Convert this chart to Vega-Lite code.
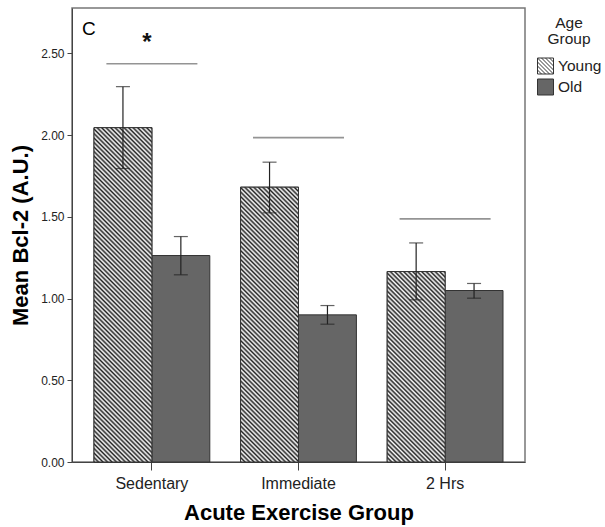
{
  "$schema": "https://vega.github.io/schema/vega-lite/v6.json",
  "width": 453,
  "height": 454,
  "autosize": {"type": "none"},
  "padding": {"left": 72, "top": 8, "right": 80, "bottom": 65},
  "background": "#ffffff",
  "title": {"text": "C", "anchor": "start", "frame": "group", "orient": "top", "offset": 0, "baseline": "alphabetic", "dx": 10, "dy": 46, "fontSize": 19, "fontWeight": "normal", "font": "Liberation Sans", "color": "#000"},
  "params": [
    {"name": "hatch", "value": [
{"offset":0,"color":"#222"},{"offset":0.005,"color":"#fff"},{"offset":0.01,"color":"#222"},{"offset":0.015,"color":"#fff"},{"offset":0.02,"color":"#222"},{"offset":0.025,"color":"#fff"},{"offset":0.03,"color":"#222"},{"offset":0.035,"color":"#fff"},{"offset":0.04,"color":"#222"},{"offset":0.045,"color":"#fff"},
{"offset":0.05,"color":"#222"},{"offset":0.055,"color":"#fff"},{"offset":0.06,"color":"#222"},{"offset":0.065,"color":"#fff"},{"offset":0.07,"color":"#222"},{"offset":0.075,"color":"#fff"},{"offset":0.08,"color":"#222"},{"offset":0.085,"color":"#fff"},{"offset":0.09,"color":"#222"},{"offset":0.095,"color":"#fff"},
{"offset":0.1,"color":"#222"},{"offset":0.105,"color":"#fff"},{"offset":0.11,"color":"#222"},{"offset":0.115,"color":"#fff"},{"offset":0.12,"color":"#222"},{"offset":0.125,"color":"#fff"},{"offset":0.13,"color":"#222"},{"offset":0.135,"color":"#fff"},{"offset":0.14,"color":"#222"},{"offset":0.145,"color":"#fff"},
{"offset":0.15,"color":"#222"},{"offset":0.155,"color":"#fff"},{"offset":0.16,"color":"#222"},{"offset":0.165,"color":"#fff"},{"offset":0.17,"color":"#222"},{"offset":0.175,"color":"#fff"},{"offset":0.18,"color":"#222"},{"offset":0.185,"color":"#fff"},{"offset":0.19,"color":"#222"},{"offset":0.195,"color":"#fff"},
{"offset":0.2,"color":"#222"},{"offset":0.205,"color":"#fff"},{"offset":0.21,"color":"#222"},{"offset":0.215,"color":"#fff"},{"offset":0.22,"color":"#222"},{"offset":0.225,"color":"#fff"},{"offset":0.23,"color":"#222"},{"offset":0.235,"color":"#fff"},{"offset":0.24,"color":"#222"},{"offset":0.245,"color":"#fff"},
{"offset":0.25,"color":"#222"},{"offset":0.255,"color":"#fff"},{"offset":0.26,"color":"#222"},{"offset":0.265,"color":"#fff"},{"offset":0.27,"color":"#222"},{"offset":0.275,"color":"#fff"},{"offset":0.28,"color":"#222"},{"offset":0.285,"color":"#fff"},{"offset":0.29,"color":"#222"},{"offset":0.295,"color":"#fff"},
{"offset":0.3,"color":"#222"},{"offset":0.305,"color":"#fff"},{"offset":0.31,"color":"#222"},{"offset":0.315,"color":"#fff"},{"offset":0.32,"color":"#222"},{"offset":0.325,"color":"#fff"},{"offset":0.33,"color":"#222"},{"offset":0.335,"color":"#fff"},{"offset":0.34,"color":"#222"},{"offset":0.345,"color":"#fff"},
{"offset":0.35,"color":"#222"},{"offset":0.355,"color":"#fff"},{"offset":0.36,"color":"#222"},{"offset":0.365,"color":"#fff"},{"offset":0.37,"color":"#222"},{"offset":0.375,"color":"#fff"},{"offset":0.38,"color":"#222"},{"offset":0.385,"color":"#fff"},{"offset":0.39,"color":"#222"},{"offset":0.395,"color":"#fff"},
{"offset":0.4,"color":"#222"},{"offset":0.405,"color":"#fff"},{"offset":0.41,"color":"#222"},{"offset":0.415,"color":"#fff"},{"offset":0.42,"color":"#222"},{"offset":0.425,"color":"#fff"},{"offset":0.43,"color":"#222"},{"offset":0.435,"color":"#fff"},{"offset":0.44,"color":"#222"},{"offset":0.445,"color":"#fff"},
{"offset":0.45,"color":"#222"},{"offset":0.455,"color":"#fff"},{"offset":0.46,"color":"#222"},{"offset":0.465,"color":"#fff"},{"offset":0.47,"color":"#222"},{"offset":0.475,"color":"#fff"},{"offset":0.48,"color":"#222"},{"offset":0.485,"color":"#fff"},{"offset":0.49,"color":"#222"},{"offset":0.495,"color":"#fff"},
{"offset":0.5,"color":"#222"},{"offset":0.505,"color":"#fff"},{"offset":0.51,"color":"#222"},{"offset":0.515,"color":"#fff"},{"offset":0.52,"color":"#222"},{"offset":0.525,"color":"#fff"},{"offset":0.53,"color":"#222"},{"offset":0.535,"color":"#fff"},{"offset":0.54,"color":"#222"},{"offset":0.545,"color":"#fff"},
{"offset":0.55,"color":"#222"},{"offset":0.555,"color":"#fff"},{"offset":0.56,"color":"#222"},{"offset":0.565,"color":"#fff"},{"offset":0.57,"color":"#222"},{"offset":0.575,"color":"#fff"},{"offset":0.58,"color":"#222"},{"offset":0.585,"color":"#fff"},{"offset":0.59,"color":"#222"},{"offset":0.595,"color":"#fff"},
{"offset":0.6,"color":"#222"},{"offset":0.605,"color":"#fff"},{"offset":0.61,"color":"#222"},{"offset":0.615,"color":"#fff"},{"offset":0.62,"color":"#222"},{"offset":0.625,"color":"#fff"},{"offset":0.63,"color":"#222"},{"offset":0.635,"color":"#fff"},{"offset":0.64,"color":"#222"},{"offset":0.645,"color":"#fff"},
{"offset":0.65,"color":"#222"},{"offset":0.655,"color":"#fff"},{"offset":0.66,"color":"#222"},{"offset":0.665,"color":"#fff"},{"offset":0.67,"color":"#222"},{"offset":0.675,"color":"#fff"},{"offset":0.68,"color":"#222"},{"offset":0.685,"color":"#fff"},{"offset":0.69,"color":"#222"},{"offset":0.695,"color":"#fff"},
{"offset":0.7,"color":"#222"},{"offset":0.705,"color":"#fff"},{"offset":0.71,"color":"#222"},{"offset":0.715,"color":"#fff"},{"offset":0.72,"color":"#222"},{"offset":0.725,"color":"#fff"},{"offset":0.73,"color":"#222"},{"offset":0.735,"color":"#fff"},{"offset":0.74,"color":"#222"},{"offset":0.745,"color":"#fff"},
{"offset":0.75,"color":"#222"},{"offset":0.755,"color":"#fff"},{"offset":0.76,"color":"#222"},{"offset":0.765,"color":"#fff"},{"offset":0.77,"color":"#222"},{"offset":0.775,"color":"#fff"},{"offset":0.78,"color":"#222"},{"offset":0.785,"color":"#fff"},{"offset":0.79,"color":"#222"},{"offset":0.795,"color":"#fff"},
{"offset":0.8,"color":"#222"},{"offset":0.805,"color":"#fff"},{"offset":0.81,"color":"#222"},{"offset":0.815,"color":"#fff"},{"offset":0.82,"color":"#222"},{"offset":0.825,"color":"#fff"},{"offset":0.83,"color":"#222"},{"offset":0.835,"color":"#fff"},{"offset":0.84,"color":"#222"},{"offset":0.845,"color":"#fff"},
{"offset":0.85,"color":"#222"},{"offset":0.855,"color":"#fff"},{"offset":0.86,"color":"#222"},{"offset":0.865,"color":"#fff"},{"offset":0.87,"color":"#222"},{"offset":0.875,"color":"#fff"},{"offset":0.88,"color":"#222"},{"offset":0.885,"color":"#fff"},{"offset":0.89,"color":"#222"},{"offset":0.895,"color":"#fff"},
{"offset":0.9,"color":"#222"},{"offset":0.905,"color":"#fff"},{"offset":0.91,"color":"#222"},{"offset":0.915,"color":"#fff"},{"offset":0.92,"color":"#222"},{"offset":0.925,"color":"#fff"},{"offset":0.93,"color":"#222"},{"offset":0.935,"color":"#fff"},{"offset":0.94,"color":"#222"},{"offset":0.945,"color":"#fff"},
{"offset":0.95,"color":"#222"},{"offset":0.955,"color":"#fff"},{"offset":0.96,"color":"#222"},{"offset":0.965,"color":"#fff"},{"offset":0.97,"color":"#222"},{"offset":0.975,"color":"#fff"},{"offset":0.98,"color":"#222"},{"offset":0.985,"color":"#fff"},{"offset":0.99,"color":"#222"},{"offset":0.995,"color":"#fff"},
{"offset":1,"color":"#222"}
    ]}
  ],
  "encoding": {
    "x": {"field": "group", "type": "nominal", "sort": ["Sedentary", "Immediate", "2 Hrs"],
      "scale": {"domain": ["Sedentary", "Immediate", "2 Hrs"], "paddingInner": 0.21, "paddingOuter": 0.15},
      "axis": {"title": "Acute Exercise Group", "labelAngle": 0, "labelFontSize": 16, "labelFont": "Liberation Sans", "labelColor": "#222", "labelPadding": 5, "tickSize": 8, "tickColor": "#444", "domainColor": "#444", "titleFontSize": 22, "titleFont": "Liberation Sans", "titleFontWeight": "bold", "titleColor": "#000", "titlePadding": 11}}
  },
  "layer": [
    {
      "data": {"name": "main", "values": [
        {"group": "Sedentary", "age": "Young", "mean": 2.045, "lo": 1.795, "hi": 2.296},
        {"group": "Sedentary", "age": "Old", "mean": 1.263, "lo": 1.145, "hi": 1.379},
        {"group": "Immediate", "age": "Young", "mean": 1.681, "lo": 1.524, "hi": 1.834},
        {"group": "Immediate", "age": "Old", "mean": 0.9, "lo": 0.843, "hi": 0.957},
        {"group": "2 Hrs", "age": "Young", "mean": 1.165, "lo": 0.992, "hi": 1.34},
        {"group": "2 Hrs", "age": "Old", "mean": 1.049, "lo": 1.002, "hi": 1.092}
      ]},
      "layer": [
        {
          "mark": {"type": "point", "filled": true, "opacity": 1, "strokeWidth": 0},
          "encoding": {
            "xOffset": {"field": "age", "type": "nominal", "scale": {"domain": ["Young", "Old"], "paddingInner": 0, "paddingOuter": 0}},
            "y": {"field": "lo", "type": "quantitative"},
            "fill": {"field": "age", "type": "nominal",
              "scale": {"domain": ["Young", "Old"], "range": ["#ffffff", "#666666"]},
              "legend": {"title": ["Age", "Group"],
                "encode": {"symbols": {"update": {"stroke": {"value": "#333"}, "strokeWidth": {"value": 1}}}}}},
            "shape": {"field": "age", "type": "nominal",
              "scale": {"domain": ["Young", "Old"], "range": ["M-1,-1H1V1H-1ZM0.5,-1L1,-0.5M0,-1L1,0M-0.5,-1L1,0.5M-1,-1L1,1M-1,-0.5L0.5,1M-1,0L0,1M-1,0.5L-0.5,1", "square"]},
              "legend": {"title": ["Age", "Group"]}}
          }
        },
        {
          "mark": {"type": "bar", "stroke": "#333", "strokeWidth": 1},
          "encoding": {
            "xOffset": {"field": "age", "type": "nominal", "scale": {"domain": ["Young", "Old"], "paddingInner": 0, "paddingOuter": 0}},
            "y": {"field": "mean", "type": "quantitative", "stack": null,
              "scale": {"domain": [0, 2.777], "nice": false},
              "axis": {"title": "Mean Bcl-2 (A.U.)", "values": [0, 0.5, 1, 1.5, 2, 2.5], "format": ".2f", "grid": false, "labelFontSize": 12, "labelFont": "Liberation Sans", "labelColor": "#222", "labelPadding": 3, "tickSize": 5, "tickColor": "#444", "domainColor": "#444", "titleFontSize": 22, "titleFont": "Liberation Sans", "titleFontWeight": "bold", "titleColor": "#000", "titlePadding": 8}},
            "fill": {"field": "age", "type": "nominal", "legend": {"title": ["Age", "Group"]}}
          }
        },
        {
          "transform": [{"filter": "datum.age === 'Young'"}],
          "mark": {"type": "bar", "stroke": "#333", "strokeWidth": 1,
            "fill": {"expr": "{gradient: 'linear', x1: 0, y1: 1, x2: 450*58/(3364 + pow(scale('y', 0) - scale('y', datum.mean), 2)), y2: 1 - 450*(scale('y', 0) - scale('y', datum.mean))/(3364 + pow(scale('y', 0) - scale('y', datum.mean), 2)), stops: hatch}"}},
          "encoding": {
            "xOffset": {"field": "age", "type": "nominal", "scale": {"domain": ["Young", "Old"], "paddingInner": 0, "paddingOuter": 0}},
            "y": {"field": "mean", "type": "quantitative", "stack": null}
          }
        },
        {
          "mark": {"type": "rule", "color": "#222", "strokeWidth": 1.2},
          "encoding": {
            "xOffset": {"field": "age", "type": "nominal", "scale": {"domain": ["Young", "Old"], "paddingInner": 0, "paddingOuter": 0}},
            "y": {"field": "lo", "type": "quantitative"},
            "y2": {"field": "hi"}
          }
        },
        {
          "mark": {"type": "tick", "orient": "horizontal", "color": "#222", "size": 14, "thickness": 1.2},
          "encoding": {
            "xOffset": {"field": "age", "type": "nominal", "scale": {"domain": ["Young", "Old"], "paddingInner": 0, "paddingOuter": 0}},
            "y": {"field": "hi", "type": "quantitative"}
          }
        },
        {
          "mark": {"type": "tick", "orient": "horizontal", "color": "#222", "size": 14, "thickness": 1.2},
          "encoding": {
            "xOffset": {"field": "age", "type": "nominal", "scale": {"domain": ["Young", "Old"], "paddingInner": 0, "paddingOuter": 0}},
            "y": {"field": "lo", "type": "quantitative"}
          }
        }
      ]
    },
    {
      "data": {"values": [
        {"group": "Sedentary", "level": 2.436},
        {"group": "Immediate", "level": 1.984},
        {"group": "2 Hrs", "level": 1.487}
      ]},
      "mark": {"type": "tick", "orient": "horizontal", "color": "#666", "size": 91, "thickness": 1.6},
      "encoding": {"y": {"field": "level", "type": "quantitative"}}
    },
    {
      "data": {"values": [{"group": "Sedentary", "level": 2.522, "label": "*"}]},
      "mark": {"type": "text", "fontSize": 24, "fontWeight": "bold", "font": "Liberation Sans", "baseline": "alphabetic", "align": "center", "dx": -5, "color": "#111"},
      "encoding": {"y": {"field": "level", "type": "quantitative"}, "text": {"field": "label"}}
    }
  ],
  "config": {
    "view": {"stroke": "#777", "strokeWidth": 1.5},
    "legend": {"orient": "right", "offset": 4, "padding": 8, "titleFontSize": 15.5, "titleFont": "Liberation Sans", "titleFontWeight": "normal", "titleColor": "#222", "titleAnchor": "middle", "titleAlign": "center", "titleLineHeight": 16, "titlePadding": 10, "labelFontSize": 15.5, "labelFont": "Liberation Sans", "labelColor": "#222", "labelOffset": 4, "symbolSize": 256, "symbolStrokeColor": "#333", "symbolStrokeWidth": 1, "symbolOpacity": 1, "rowPadding": 0}
  }
}
